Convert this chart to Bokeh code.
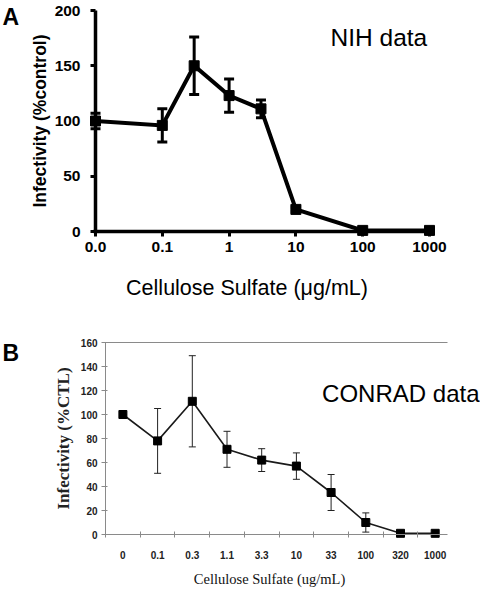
import math
from bokeh.plotting import figure
from bokeh.models import (ColumnDataSource, Range1d, FixedTicker, Whisker, TeeHead, Label,
                          LinearAxis)
from bokeh.layouts import column
from bokeh.embed import file_html
from bokeh.resources import INLINE

# ---------------- Panel A: NIH data ----------------
conc_a = [0.01, 0.1, 0.3, 1, 3, 10, 100, 1000]      # control (0) drawn at the "0.0" position
inf_a = [100, 96, 150, 123, 111, 20, 1, 1]
err_a = [7, 15, 26, 15, 8, 2, 1, 1]
xticks_a = [0.01, 0.1, 1, 10, 100, 1000]
xtick_labels_a = ["0.0", "0.1", "1", "10", "100", "1000"]
yticks_a = [0, 50, 100, 150, 200]

# ---------------- Panel B: CONRAD data ----------------
conc_labels_b = ["0", "0.1", "0.3", "1.1", "3.3", "10", "33", "100", "320", "1000"]
inf_b = [100, 78, 111, 71, 62, 57, 35, 10, 1, 1]
err_b = [0, 27, 38, 15, 9.5, 11, 15, 8, 0, 0]
yticks_b = [0, 20, 40, 60, 80, 100, 120, 140, 160]

SANS = "Liberation Sans"
SERIF = "Liberation Serif"
W = 480
HA, HB = 326, 284

# ---- layout geometry (pixels) ----
# A: x (log): 0.01 at px 95, 66.8 px / decade ; y: 200 at px 10, 0 at px 231
AX0, ADEC = 95.0, 66.8
AY200, AY0 = 10.0, 231.0
ayk = (AY0 - AY200) / 200.0
def ax_data(px):
    return 10 ** (-2 + (px - AX0) / ADEC)
def ay_data(py):
    return (AY0 - py) / ayk

# B: x (index): idx 0 at px 122.4, 34.7 px per category ; y: 160 at px 16, 0 at px 208
BX0, BSTEP = 122.4, 34.7
BY160, BY0 = 16.0, 208.0
byk = (BY0 - BY160) / 160.0
def bx_data(px):
    return (px - BX0) / BSTEP
def by_data(py):
    return (BY0 - py) / byk

# ======== Figure A ========
src_a = ColumnDataSource(dict(
    x=conc_a, y=inf_a,
    upper=[v + e for v, e in zip(inf_a, err_a)],
    lower=[v - e for v, e in zip(inf_a, err_a)],
))

pa = figure(width=W, height=HA, x_axis_type="log",
            x_range=Range1d(ax_data(0), ax_data(W)), y_range=Range1d(ay_data(HA), ay_data(0)),
            output_backend="svg", toolbar_location=None,
            min_border_left=0, min_border_right=0, min_border_top=0, min_border_bottom=0)
pa.outline_line_color = None
pa.xgrid.visible = False
pa.ygrid.visible = False

pa.line("x", "y", source=src_a, line_width=4, line_color="black", line_join="miter")
pa.add_layout(Whisker(base="x", upper="upper", lower="lower", source=src_a, dimension="height",
                      line_width=3, line_color="black",
                      upper_head=TeeHead(size=10, line_width=3, line_color="black"),
                      lower_head=TeeHead(size=10, line_width=3, line_color="black")))
pa.scatter("x", "y", source=src_a, marker="square", size=10, fill_color="black", line_color="black")

pa.xaxis.fixed_location = 0
pa.xaxis.bounds = (0.0093, 1120)
pa.yaxis.fixed_location = 0.01
pa.yaxis.bounds = (0, 200)
pa.xaxis.ticker = FixedTicker(ticks=xticks_a, minor_ticks=[])
pa.xaxis.major_label_overrides = {t: l for t, l in zip(xticks_a, xtick_labels_a)}
pa.yaxis.ticker = FixedTicker(ticks=yticks_a, minor_ticks=[])
for ax in (pa.xaxis, pa.yaxis):
    ax.axis_line_width = 3.5
    ax.axis_line_color = "black"
    ax.major_tick_line_width = 3
    ax.major_tick_line_color = "black"
    ax.major_tick_in = 0
    ax.major_tick_out = 5
    ax.minor_tick_out = 0
    ax.minor_tick_in = 0
    ax.major_label_text_font = SANS
    ax.major_label_text_font_style = "bold"
    ax.major_label_text_font_size = "15.5px"
    ax.major_label_text_color = "black"
pa.xaxis.major_label_standoff = 5
pa.yaxis.major_label_standoff = 10
pa.yaxis.axis_label = "Infectivity (%control)"
pa.yaxis.axis_label_text_font = SANS
pa.yaxis.axis_label_text_font_style = "bold"
pa.yaxis.axis_label_text_font_size = "17.5px"
pa.yaxis.axis_label_text_color = "black"
pa.yaxis.axis_label_standoff = 2

pa.add_layout(Label(x=ax_data(246.5), y=ay_data(287), text="Cellulose Sulfate (\u03bcg/mL)",
                    text_font=SANS, text_font_size="21.5px", text_align="center",
                    text_baseline="middle", text_color="black"))
pa.add_layout(Label(x=ax_data(330), y=ay_data(37), text="NIH data", text_font=SANS,
                    text_font_size="24.5px", text_align="left", text_baseline="middle",
                    text_color="black"))
pa.add_layout(Label(x=ax_data(2), y=ay_data(3), text="A", text_font=SANS, text_font_size="23px",
                    text_font_style="bold", text_align="left", text_baseline="top",
                    text_color="black"))

# ======== Figure B ========
idx_b = list(range(len(conc_labels_b)))
src_b = ColumnDataSource(dict(
    x=idx_b, y=inf_b,
    upper=[v + e for v, e in zip(inf_b, err_b)],
    lower=[v - e for v, e in zip(inf_b, err_b)],
))

pb = figure(width=W, height=HB,
            x_range=Range1d(bx_data(0), bx_data(W)), y_range=Range1d(by_data(HB), by_data(0)),
            output_backend="svg", toolbar_location=None,
            min_border_left=0, min_border_right=0, min_border_top=0, min_border_bottom=0)
pb.outline_line_color = None
pb.xgrid.visible = False
pb.ygrid.visible = False

GRAY = "#8a8a8a"
pb.line("x", "y", source=src_b, line_width=1.6, line_color="#1a1a1a")
pb.add_layout(Whisker(base="x", upper="upper", lower="lower", source=src_b, dimension="height",
                      line_width=1, line_color="#222222",
                      upper_head=TeeHead(size=7, line_width=1, line_color="#222222"),
                      lower_head=TeeHead(size=7, line_width=1, line_color="#222222")))
pb.scatter("x", "y", source=src_b, marker="square", size=8, fill_color="black", line_color="black")

x_lo, x_hi = -0.5, 9.35
pb.xaxis.fixed_location = 0
pb.xaxis.bounds = (x_lo, x_hi)
pb.xaxis.ticker = FixedTicker(ticks=idx_b, minor_ticks=[i + 0.5 for i in range(-1, len(idx_b) - 1)])
pb.xaxis.major_label_overrides = {i: l for i, l in zip(idx_b, conc_labels_b)}
pb.yaxis.fixed_location = x_lo
pb.yaxis.bounds = (0, 160)
pb.yaxis.ticker = FixedTicker(ticks=yticks_b, minor_ticks=[])
for ax in (pb.xaxis, pb.yaxis):
    ax.axis_line_width = 1
    ax.axis_line_color = GRAY
    ax.major_tick_line_color = GRAY
    ax.minor_tick_line_color = GRAY
    ax.major_label_text_font = SANS
    ax.major_label_text_font_style = "bold"
    ax.major_label_text_font_size = "10px"
    ax.major_label_text_color = "#222222"
pb.xaxis.major_tick_out = 0
pb.xaxis.major_tick_in = 0
pb.xaxis.minor_tick_out = 3
pb.xaxis.minor_tick_in = 3
pb.xaxis.major_label_standoff = 13
pb.yaxis.major_tick_out = 4
pb.yaxis.major_tick_in = 2
pb.yaxis.minor_tick_out = 0
pb.yaxis.minor_tick_in = 0
pb.yaxis.major_label_standoff = 4
pb.yaxis.axis_label = "Infectivity (%CTL)"
pb.yaxis.axis_label_text_font = SERIF
pb.yaxis.axis_label_text_font_style = "bold"
pb.yaxis.axis_label_text_font_size = "17px"
pb.yaxis.axis_label_text_color = "#222222"
pb.yaxis.axis_label_standoff = 5

# top frame line at 160 (plain axis line, no ticks or labels)
top_axis = LinearAxis(fixed_location=160, bounds=(x_lo, x_hi), ticker=FixedTicker(ticks=[], minor_ticks=[]),
                      axis_line_color=GRAY, axis_line_width=1,
                      major_tick_out=0, major_tick_in=0, minor_tick_out=0, minor_tick_in=0,
                      major_label_text_font_size="0px")
pb.add_layout(top_axis, "above")

pb.add_layout(Label(x=bx_data(269), y=by_data(252), text="Cellulose Sulfate (ug/mL)",
                    text_font=SERIF, text_font_size="14.5px", text_align="center",
                    text_baseline="middle", text_color="#111111"))
pb.add_layout(Label(x=bx_data(479), y=by_data(67), text="CONRAD data", text_font=SANS,
                    text_font_size="24px", text_align="right", text_baseline="middle",
                    text_color="black"))
pb.add_layout(Label(x=bx_data(2), y=by_data(26), text="B", text_font=SANS, text_font_size="23px",
                    text_font_style="bold", text_align="left", text_baseline="middle",
                    text_color="black"))

layout = column(pa, pb, spacing=0)
open("out.html", "w").write(file_html(layout, INLINE))
